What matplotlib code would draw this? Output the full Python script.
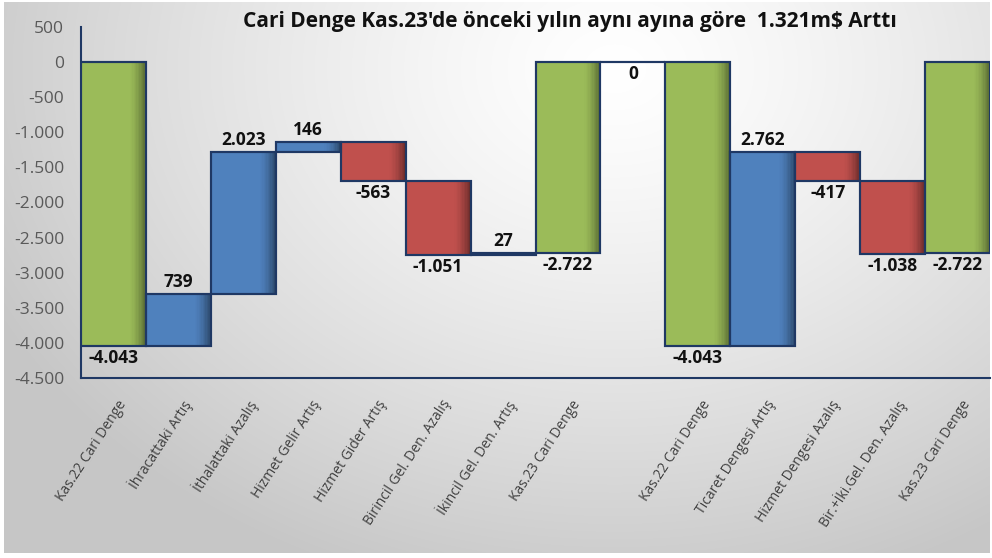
import numpy as np
import matplotlib
matplotlib.use("Agg")
import matplotlib.pyplot as plt

plt.rcParams['font.family'] = ['Open Sans', 'DejaVu Sans']

title = "Cari Denge Kas.23'de önceki yılın aynı ayına göre  1.321m$ Arttı"
categories = ["Kas.22 Cari Denge", "İhracattaki Artış", "İthalattaki Azalış",
              "Hizmet Gelir Artış", "Hizmet Gider Artış", "Birincil Gel. Den. Azalış",
              "İkincil Gel. Den. Artış", "Kas.23 Cari Denge", "",
              "Kas.22 Cari Denge", "Ticaret Dengesi Artış", "Hizmet Dengesi Azalış",
              "Bir.+İki.Gel. Den. Azalış", "Kas.23 Cari Denge"]
values = [-4043, 739, 2023, 146, -563, -1051, 27, -2722, 0,
          -4043, 2762, -417, -1038, -2722]
kinds = ["total", "delta", "delta", "delta", "delta", "delta", "delta", "total", "blank",
         "total", "delta", "delta", "delta", "total"]
yticks = [500, 0, -500, -1000, -1500, -2000, -2500, -3000, -3500, -4000, -4500]

GREEN, BLUE, RED = "#9BBB59", "#4F81BD", "#C0504D"
EDGE = "#1F3864"

def fmt(v):
    s = f"{abs(v):,}".replace(",", ".")
    return ("-" if v < 0 else "") + s

fig = plt.figure(figsize=(9.92, 5.58), dpi=100)
fig.patch.set_facecolor("white")

# background gradient panel
bg = fig.add_axes([4/992, 5/558, 986/992, 551/558], zorder=-5)
yy, xx = np.mgrid[0:1:300j, 0:1:500j]
d = np.sqrt(((xx - 0.62) / 0.75) ** 2 + ((yy - 0.12) / 1.05) ** 2)
g = np.clip(1.0 - 0.24 * d ** 1.3, 0.78, 1.0)
bg.imshow(np.dstack([g, g, g]), aspect="auto", extent=[0, 1, 1, 0], interpolation="bicubic")
bg.set_axis_off()

ax = fig.add_axes([81/992, 1 - 378/558, 909/992, (378 - 27)/558])
ax.set_facecolor("none")

n = len(values)
x = np.arange(n)
bottoms, heights, colors = [], [], []
cum = 0
for v, k in zip(values, kinds):
    if k == "total":
        bottoms.append(0); heights.append(v); colors.append(GREEN); cum = v
    elif k == "blank":
        bottoms.append(0); heights.append(0); colors.append("none")
    else:
        bottoms.append(cum); heights.append(v); colors.append(BLUE if v > 0 else RED); cum += v

W = 1.0
ax.bar(x, heights, bottom=bottoms, width=W, color=colors, edgecolor=EDGE, linewidth=1.5, zorder=3)

# right-side shading strips (darker towards right edge)
nstr = 12
frac = 0.25
sw = frac / nstr
for j in range(nstr):
    off = 0.5 - frac + sw * (j + 0.5)
    a = 0.42 * ((j + 1) / nstr) ** 1.6
    for i in range(n):
        if kinds[i] == "blank":
            continue
        ax.bar(x[i] + off, heights[i], bottom=bottoms[i], width=sw,
               color="black", alpha=a, linewidth=0, zorder=3.5)
# edges on top
ax.bar(x, heights, bottom=bottoms, width=W, color="none", edgecolor=EDGE, linewidth=1.5, zorder=4)

# labels
for i, (v, k) in enumerate(zip(values, kinds)):
    b, h = bottoms[i], heights[i]
    top, bot = max(b, b + h), min(b, b + h)
    if k == "delta" and v > 0:
        ax.annotate(fmt(v), (x[i], top), xytext=(0, 2), textcoords="offset points",
                    ha="center", va="bottom", fontsize=12.5, fontweight="bold", color="#111111", zorder=5)
    else:
        ax.annotate(fmt(v), (x[i], bot), xytext=(0, -2), textcoords="offset points",
                    ha="center", va="top", fontsize=12.5, fontweight="bold", color="#111111", zorder=5)

ax.set_xlim(-0.5, n - 0.5)
ax.set_ylim(-4500, 500)
ax.set_yticks(yticks)
ax.set_yticklabels([fmt(t) for t in yticks], fontsize=12.5, color="#595959")
ax.tick_params(axis="y", length=0, pad=12)
ax.set_xticks(x + 0.05)
ax.set_xticklabels(categories, rotation=57, ha="right", rotation_mode="anchor",
                   fontsize=10, color="#404040")
ax.tick_params(axis="x", length=0, pad=14)
for s in ["top", "right"]:
    ax.spines[s].set_visible(False)
ax.spines["left"].set_color(EDGE)
ax.spines["left"].set_linewidth(1.5)
ax.spines["bottom"].set_color(EDGE)
ax.spines["bottom"].set_linewidth(1.5)

fig.text(570/992, 1 - 21/558, title, ha="center", va="center", fontsize=15, fontweight="bold", color="#111111")

fig.savefig("out.png", dpi=100)
